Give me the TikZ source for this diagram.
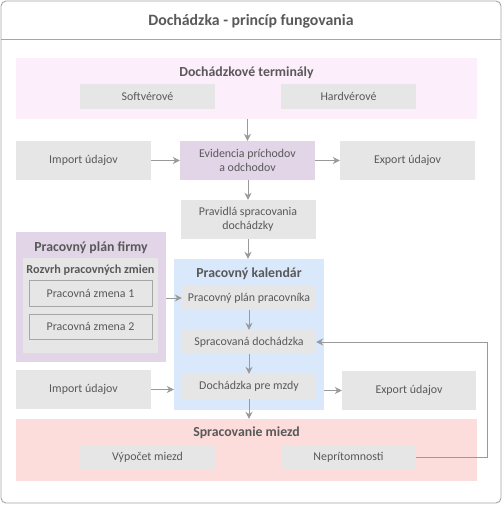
\documentclass[tikz,border=0pt]{standalone}
\usepackage{fontspec}
\setmainfont{Carlito}
\usetikzlibrary{arrows.meta}
\definecolor{txt}{HTML}{595959}
\definecolor{lin}{HTML}{9A9A9A}
\definecolor{gbox}{HTML}{E6E6E6}
\definecolor{pinkf}{HTML}{FCEEFA}
\definecolor{purf}{HTML}{E1D5E7}
\definecolor{bluef}{HTML}{DAE8FC}
\definecolor{redf}{HTML}{FDDCDC}
\definecolor{frame}{HTML}{A6A6A6}
\tikzset{
  px/.style={x=1pt,y=-1pt},
  box/.style={draw=none,fill=gbox,inner sep=0pt,text=txt,font=\fontsize{11.9}{14}\selectfont,align=center},
  cont/.style={draw=none,inner sep=0pt},
  ttl/.style={text=txt,font=\bfseries\fontsize{13.8}{16}\selectfont,inner sep=0pt},
  arr/.style={draw=lin,line width=0.9pt,-{Stealth[length=7pt,width=7pt]}},
  ln/.style={draw=lin,line width=0.9pt}
}
\begin{document}
\begin{tikzpicture}[px]
\useasboundingbox (0,0) rectangle (503,505);
% outer frame
\draw[frame,line width=0.9pt,rounded corners=5pt,fill=white] (1,1) rectangle (501,503);
\draw[frame,line width=0.9pt] (1,39) -- (501,39);
\node[text=txt,font=\bfseries\fontsize{15.8}{18}\selectfont,inner sep=0pt] (title) at (251,21) {Dochádzka - princíp fungovania};

% containers
\node[cont,fill=pinkf,minimum width=461pt,minimum height=61pt] (term) at (246.5,88.5) {};
\node[ttl] (termT) at (246.5,73) {Dochádzkové terminály};
\node[cont,fill=purf,minimum width=150pt,minimum height=130pt] (firm) at (91,297) {};
\node[ttl] (firmT) at (91,248) {Pracovný plán firmy};
\node[cont,fill=gbox,minimum width=135pt,minimum height=95pt] (rozv) at (90.5,305.5) {};
\node[text=txt,font=\bfseries\fontsize{12.2}{14}\selectfont,inner sep=0pt] (rozvT) at (90.5,270) {Rozvrh pracovných zmien};
\node[cont,fill=bluef,minimum width=150pt,minimum height=151pt] (kal) at (249,334.5) {};
\node[ttl] (kalT) at (249,274) {Pracovný kalendár};
\node[cont,fill=redf,minimum width=461pt,minimum height=62pt] (miezd) at (246.5,450) {};
\node[ttl] (miezdT) at (246.5,433) {Spracovanie miezd};

% boxes
\node[box,minimum width=135pt,minimum height=25pt] (soft) at (147.5,96.5) {Softvérové};
\node[box,minimum width=135pt,minimum height=25pt] (hard) at (348.5,96.5) {Hardvérové};
\node[box,minimum width=135pt,minimum height=39pt] (imp1) at (83.5,160.5) {Import údajov};
\node[box,fill=purf,minimum width=135pt,minimum height=39pt] (evid) at (247.5,160.5) {Evidencia príchodov\\a odchodov};
\node[box,minimum width=135pt,minimum height=39pt] (exp1) at (407.5,160.5) {Export údajov};
\node[box,minimum width=135pt,minimum height=39pt] (prav) at (248,219.5) {Pravidlá spracovania\\dochádzky};
\node[box,draw=frame,line width=0.8pt,minimum width=123pt,minimum height=26pt] (zm1) at (90.5,293) {Pracovná zmena 1};
\node[box,draw=frame,line width=0.8pt,minimum width=123pt,minimum height=25pt] (zm2) at (90.5,326.5) {Pracovná zmena 2};
\node[box,minimum width=134pt,minimum height=24pt] (ppp) at (249,298) {Pracovný plán pracovníka};
\node[box,minimum width=134pt,minimum height=24pt] (sprac) at (249,342) {Spracovaná dochádzka};
\node[box,minimum width=134pt,minimum height=25pt] (dpm) at (249,386.5) {Dochádzka pre mzdy};
\node[box,minimum width=135pt,minimum height=39pt] (imp2) at (83.5,389.5) {Import údajov};
\node[box,minimum width=134pt,minimum height=39pt] (exp2) at (409,390.5) {Export údajov};
\node[box,minimum width=135pt,minimum height=25pt] (vyp) at (147.5,457.5) {Výpočet miezd};
\node[box,minimum width=135pt,minimum height=25pt] (nep) at (348.5,457.5) {Neprítomnosti};
\coordinate (fbx) at (487,0);

% connectors
\draw[arr] (evid.north |- term.south) -- (evid.north);
\draw[arr] (imp1) -- (evid);
\draw[arr] (evid) -- (exp1);
\draw[arr] (evid.south -| prav.north) -- (prav.north);
\draw[arr] (prav.south) -- (prav.south |- kal.north);
\draw[arr] (firm.east |- ppp.west) -- (ppp.west);
\draw[arr] (ppp) -- (sprac);
\draw[arr] (sprac) -- (dpm);
\draw[arr] (imp2.east) -- (imp2.east -| kal.west);
\draw[arr] (exp2.west -| kal.east) -- (exp2.west);
\draw[arr] (dpm.south) -- (dpm.south |- miezd.north);
\draw[arr] (nep.east) -- (nep.east -| fbx) -- (fbx |- sprac.east) -- (sprac.east);
\end{tikzpicture}
\end{document}
